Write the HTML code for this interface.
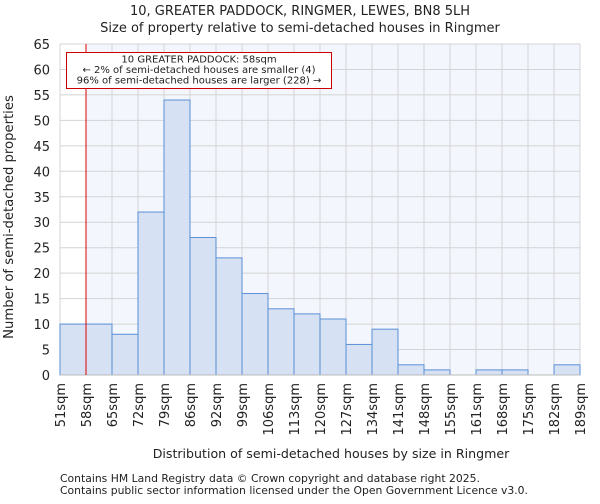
<!DOCTYPE html>
<html><head><meta charset="utf-8"><style>
body{margin:0;background:#fff;font-family:"DejaVu Sans","Liberation Sans",sans-serif}
svg text{font-family:"DejaVu Sans","Liberation Sans",sans-serif;fill:#222}
</style></head><body>
<svg id="c" width="600" height="500">
<text x="300" y="15" font-size="13" text-anchor="middle">10, GREATER PADDOCK, RINGMER, LEWES, BN8 5LH</text>
<text x="300" y="32" font-size="13" text-anchor="middle">Size of property relative to semi-detached houses in Ringmer</text>
<g id="plot"></g>
<text x="331" y="458" font-size="12.6" text-anchor="middle">Distribution of semi-detached houses by size in Ringmer</text>
<text transform="translate(13,217) rotate(-90)" font-size="13.2" text-anchor="middle">Number of semi-detached properties</text>
<text x="60" y="482" font-size="10.8" fill="#444">Contains HM Land Registry data © Crown copyright and database right 2025.</text>
<text x="60" y="494" font-size="10.8" fill="#444">Contains public sector information licensed under the Open Government Licence v3.0.</text>
</svg>
<script>
const binLabels=["51sqm","58sqm","65sqm","72sqm","79sqm","86sqm","92sqm","99sqm","106sqm","113sqm","120sqm","127sqm","134sqm","141sqm","148sqm","155sqm","161sqm","168sqm","175sqm","182sqm","189sqm"];
const counts=[10,10,8,32,54,27,23,16,13,12,11,6,9,2,1,0,1,1,0,2];
const yTicks=[0,5,10,15,20,25,30,35,40,45,50,55,60,65];
const markerIndex=1;
const NS="http://www.w3.org/2000/svg";
const g=document.getElementById('plot');
const X0=60,X1=580,Y0=375,Y1=44,YMAX=65;
const bw=(X1-X0)/counts.length;
const xs=i=>X0+i*bw;
const ys=v=>Y0-(v/YMAX)*(Y0-Y1);
function mk(t,a){const e=document.createElementNS(NS,t);for(const k in a)e.setAttribute(k,a[k]);g.appendChild(e);return e;}
let e=mk('rect',{x:X0,y:Y1,width:X1-X0,height:Y0-Y1,fill:'#f3f6fd'});


e=mk('rect',{x:X0,y:Y1,width:xs(markerIndex)-X0,height:Y0-Y1,fill:'#fff'});


yTicks.forEach(v=>{
 e=mk('line',{x1:X0,x2:X1,y1:ys(v),y2:ys(v),stroke:'#d4d4d4','stroke-width':1});
 
 
 e=mk('text',{x:X0-10,y:ys(v)+5,'font-size':13,'text-anchor':'end'});e.textContent=v;
 
 
});
binLabels.forEach((l,i)=>{
 e=mk('line',{x1:xs(i),x2:xs(i),y1:Y1,y2:Y0,stroke:'#d4d4d4','stroke-width':1});
 
 
 e=mk('text',{transform:`translate(${xs(i)+5},${Y0+8}) rotate(-90)`,'font-size':13,'text-anchor':'end'});e.textContent=l;
 
 
});
counts.forEach((v,i)=>{
 if(v<=0)return;
 e=mk('rect',{x:xs(i),y:ys(v),width:bw,height:Y0-ys(v),fill:'#d6e1f3',stroke:'#5b8fd6','stroke-width':1});
 
 
});
e=mk('line',{x1:X0,x2:X1,y1:Y0,y2:Y0,stroke:'#bbb','stroke-width':1});


e=mk('line',{x1:xs(markerIndex),x2:xs(markerIndex),y1:Y1,y2:Y0,stroke:'#d00','stroke-width':1});


e=mk('rect',{x:66.5,y:52.5,width:265,height:36,fill:'#fff',stroke:'#c00','stroke-width':1});


["10 GREATER PADDOCK: 58sqm","← 2% of semi-detached houses are smaller (4)","96% of semi-detached houses are larger (228) →"].forEach((t,i)=>{
 e=mk('text',{x:199,y:62.5+i*10.5,'font-size':10,'text-anchor':'middle'});e.textContent=t;
 
 
});
</script>
</body></html>
